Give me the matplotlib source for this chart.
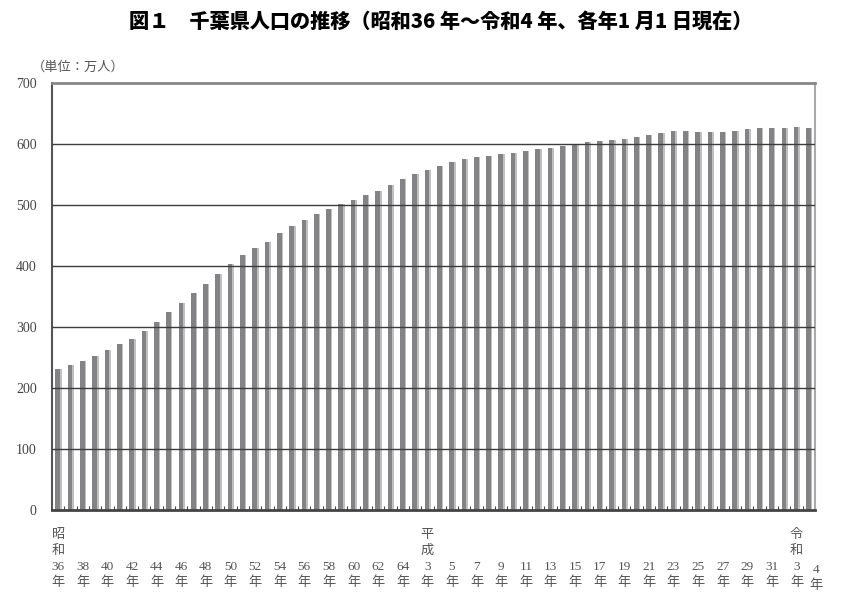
import matplotlib
matplotlib.use("Agg")
import matplotlib.pyplot as plt
import matplotlib.transforms as mtransforms
import numpy as np

# 千葉県人口（各年1月1日現在、万人）昭和36年〜令和4年
population = [
    231, 237, 244, 252, 263, 272, 280, 294, 308, 325,
    340, 355, 371, 387, 403, 418, 429, 440, 454, 466,
    476, 485, 493, 502, 508, 516, 523, 532, 542, 550,
    557, 564, 570, 575, 579, 580, 583, 586, 589, 592,
    593, 597, 599, 603, 605, 606, 608, 612, 615, 618,
    621, 621, 619, 619, 620, 622, 624, 626, 626, 627,
    628, 627,
]

# x軸ラベル（2年おき）
label_pos = [0, 2, 4, 6, 8, 10, 12, 14, 16, 18, 20, 22, 24, 26, 28,
             30, 32, 34, 36, 38, 40, 42, 44, 46, 48, 50, 52, 54, 56, 58,
             60, 61]
label_txt = ["昭\n和\n36\n年", "38\n年", "40\n年", "42\n年", "44\n年",
             "46\n年", "48\n年", "50\n年", "52\n年", "54\n年", "56\n年",
             "58\n年", "60\n年", "62\n年", "64\n年",
             "平\n成\n3\n年", "5\n年", "7\n年", "9\n年", "11\n年", "13\n年",
             "15\n年", "17\n年", "19\n年", "21\n年", "23\n年", "25\n年",
             "27\n年", "29\n年", "31\n年",
             "令\n和\n3\n年", "4\n年"]

yticks = [0, 100, 200, 300, 400, 500, 600, 700]

serif = ["Liberation Serif", "Noto Sans CJK JP"]

fig = plt.figure(figsize=(8.5, 6.12), dpi=100)
ax = fig.add_axes([0.0612, 0.1667, 0.8976, 0.6977])

x = np.arange(len(population))
# 明るい影と濃い本体の2重の棒
ax.bar(x + 0.05, population, width=0.48, color="#c0c0c0", zorder=2)
ax.bar(x - 0.03, population, width=0.38, color="#838386", zorder=2)

for v in yticks[1:-1]:
    ax.axhline(v, color="#3c3c3c", lw=1.0, zorder=3)

ax.set_xlim(-0.5, len(population) - 0.5)
ax.set_ylim(0, 700)
ax.set_yticks(yticks)
ax.set_yticklabels([str(v) for v in yticks], family=serif, fontsize=10,
                   color="#444444")
ax.tick_params(axis="y", length=0, pad=11)

ax.set_xticks(x[:-1] + 0.5)
ax.set_xticklabels([])
ax.tick_params(axis="x", direction="in", length=3, color="#444444")

ax.spines["left"].set_color("#555555")
ax.spines["left"].set_linewidth(1.5)
ax.spines["bottom"].set_color("#444444")
ax.spines["bottom"].set_linewidth(2)
ax.spines["top"].set_color("#888888")
ax.spines["top"].set_linewidth(2)
ax.spines["right"].set_color("#aaaaaa")
ax.spines["right"].set_linewidth(1.5)

trans = mtransforms.blended_transform_factory(ax.transData, ax.transAxes)
for p, t in zip(label_pos, label_txt):
    yy = -0.185 if t != "4\n年" else -0.193
    dx = 0.0 if t != "4\n年" else 0.55
    ax.text(p + dx, yy, t, transform=trans, ha="center", va="bottom",
            family=serif, fontsize=9.5, color="#555555", linespacing=1.4,
            multialignment="center")

fig.text(0.518, 0.965, "図１　千葉県人口の推移（昭和36 年～令和4 年、各年1 月1 日現在）",
         ha="center", va="center", fontsize=14.5, fontweight="heavy",
         family=["Noto Sans CJK JP", "DejaVu Sans"])
fig.text(0.037, 0.89, "（単位：万人）", ha="left", va="center", fontsize=9.5,
         color="#555555", family=serif)

fig.savefig("out.png", dpi=100)
